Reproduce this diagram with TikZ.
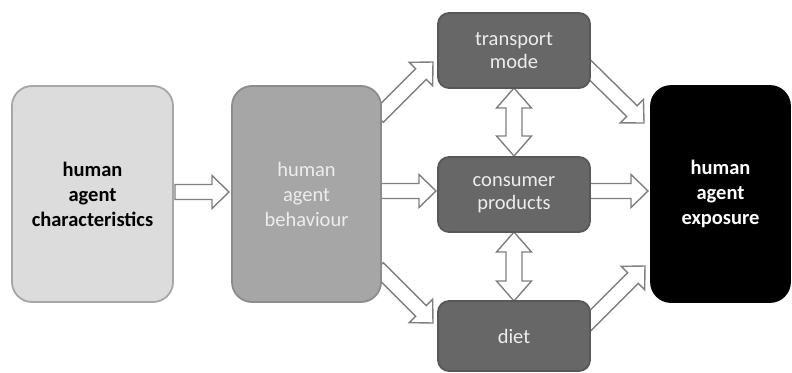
\documentclass[tikz,border=0pt]{standalone}
\usepackage{fontspec}
\setmainfont{Carlito}
\usetikzlibrary{calc}
\definecolor{arrgray}{HTML}{7F7F7F}
\definecolor{boxA}{HTML}{DCDCDC}
\definecolor{boxAline}{HTML}{A6A6A6}
\definecolor{boxB}{HTML}{A6A6A6}
\definecolor{boxBline}{HTML}{8C8C8C}
\definecolor{boxC}{HTML}{676767}
\definecolor{boxCline}{HTML}{585858}
\definecolor{txtlight}{HTML}{EDEDED}
\tikzset{
  box/.style={rectangle, rounded corners=20pt, line width=1.8pt, align=center,
    font=\fontsize{20.5}{25}\selectfont, inner sep=0pt},
  bigbox/.style={box, minimum height=216pt},
  smallbox/.style={box, rounded corners=11pt, minimum width=152pt, fill=boxC, draw=boxCline, text=txtlight,
    font=\fontsize{20.5}{23.5}\selectfont},
  barrow/.style={draw=arrgray, fill=white, line width=1.4pt, line join=miter},
}
% single block arrow from #1 to #2 (tip at #2)
\newcommand{\blockarr}[2]{%
  \coordinate (hh) at ($(#2)!17pt!(#1)$);
  \draw[barrow] ($(#1)!7.5pt!90:(#2)$) -- ($(hh)!7.5pt!90:(#2)$) -- ($(hh)!16.5pt!90:(#2)$) -- (#2)
    -- ($(hh)!16.5pt!-90:(#2)$) -- ($(hh)!7.5pt!-90:(#2)$) -- ($(#1)!7.5pt!-90:(#2)$) -- cycle;}
% double block arrow between #1 and #2
\newcommand{\dblarr}[2]{%
  \coordinate (ha) at ($(#1)!20pt!(#2)$);
  \coordinate (hb) at ($(#2)!20pt!(#1)$);
  \draw[barrow] (#1) -- ($(ha)!17.5pt!90:(#2)$) -- ($(ha)!8pt!90:(#2)$) -- ($(hb)!8pt!90:(#2)$)
    -- ($(hb)!17.5pt!90:(#2)$) -- (#2) -- ($(hb)!17.5pt!-90:(#2)$) -- ($(hb)!8pt!-90:(#2)$)
    -- ($(ha)!8pt!-90:(#2)$) -- ($(ha)!17.5pt!-90:(#2)$) -- cycle;}
\begin{document}
\begin{tikzpicture}[x=1pt,y=-1pt]
\useasboundingbox (0,0) rectangle (792,372);
% node positions (centres)
\coordinate (pchar) at (92.5,194);
\coordinate (pbeh) at (306.5,194);
\coordinate (ptrans) at (514,50.5);
\coordinate (pcons) at (514,194.5);
\coordinate (pdiet) at (514,336);
\coordinate (pexpo) at (720.5,194);
% arrow end points
\coordinate (a1s) at (175,192);  \coordinate (a1e) at (229,192);
\coordinate (a2s) at (380,191);  \coordinate (a2e) at (436,191);
\coordinate (a3s) at (590,191);  \coordinate (a3e) at (648,191);
\coordinate (d1s) at (378,117);  \coordinate (d1e) at (433,62);
\coordinate (d2s) at (585,65);   \coordinate (d2e) at (644,123);
\coordinate (d3s) at (378,268);  \coordinate (d3e) at (433,323);
\coordinate (d4s) at (585,326);  \coordinate (d4e) at (645,266);
\coordinate (v1s) at (514,88);   \coordinate (v1e) at (514,156);
\coordinate (v2s) at (514,232);  \coordinate (v2e) at (514,301);
% arrows (behind boxes)
\blockarr{a1s}{a1e}
\blockarr{a2s}{a2e}
\blockarr{a3s}{a3e}
\blockarr{d1s}{d1e}
\blockarr{d2s}{d2e}
\blockarr{d3s}{d3e}
\blockarr{d4s}{d4e}
\dblarr{v1s}{v1e}
\dblarr{v2s}{v2e}
% boxes
\node[bigbox, minimum width=161pt, fill=boxA, draw=boxAline, font=\fontsize{20.5}{25}\selectfont\bfseries]
  (char) at (pchar) {human\\agent\\characteristics};
\node[bigbox, minimum width=149pt, fill=boxB, draw=boxBline, text=txtlight]
  (beh) at (pbeh) {human\\agent\\behaviour};
\node[smallbox, minimum height=75pt] (trans) at (ptrans) {transport\\mode};
\node[smallbox, minimum height=75pt] (cons) at (pcons) {consumer\\products};
\node[smallbox, minimum height=70pt] (diet) at (pdiet) {diet};
\node[bigbox, minimum width=139pt, fill=black, draw=black, text=white, font=\fontsize{20.5}{25}\selectfont\bfseries]
  (expo) at (pexpo) {human\\agent\\exposure};
\end{tikzpicture}
\end{document}
